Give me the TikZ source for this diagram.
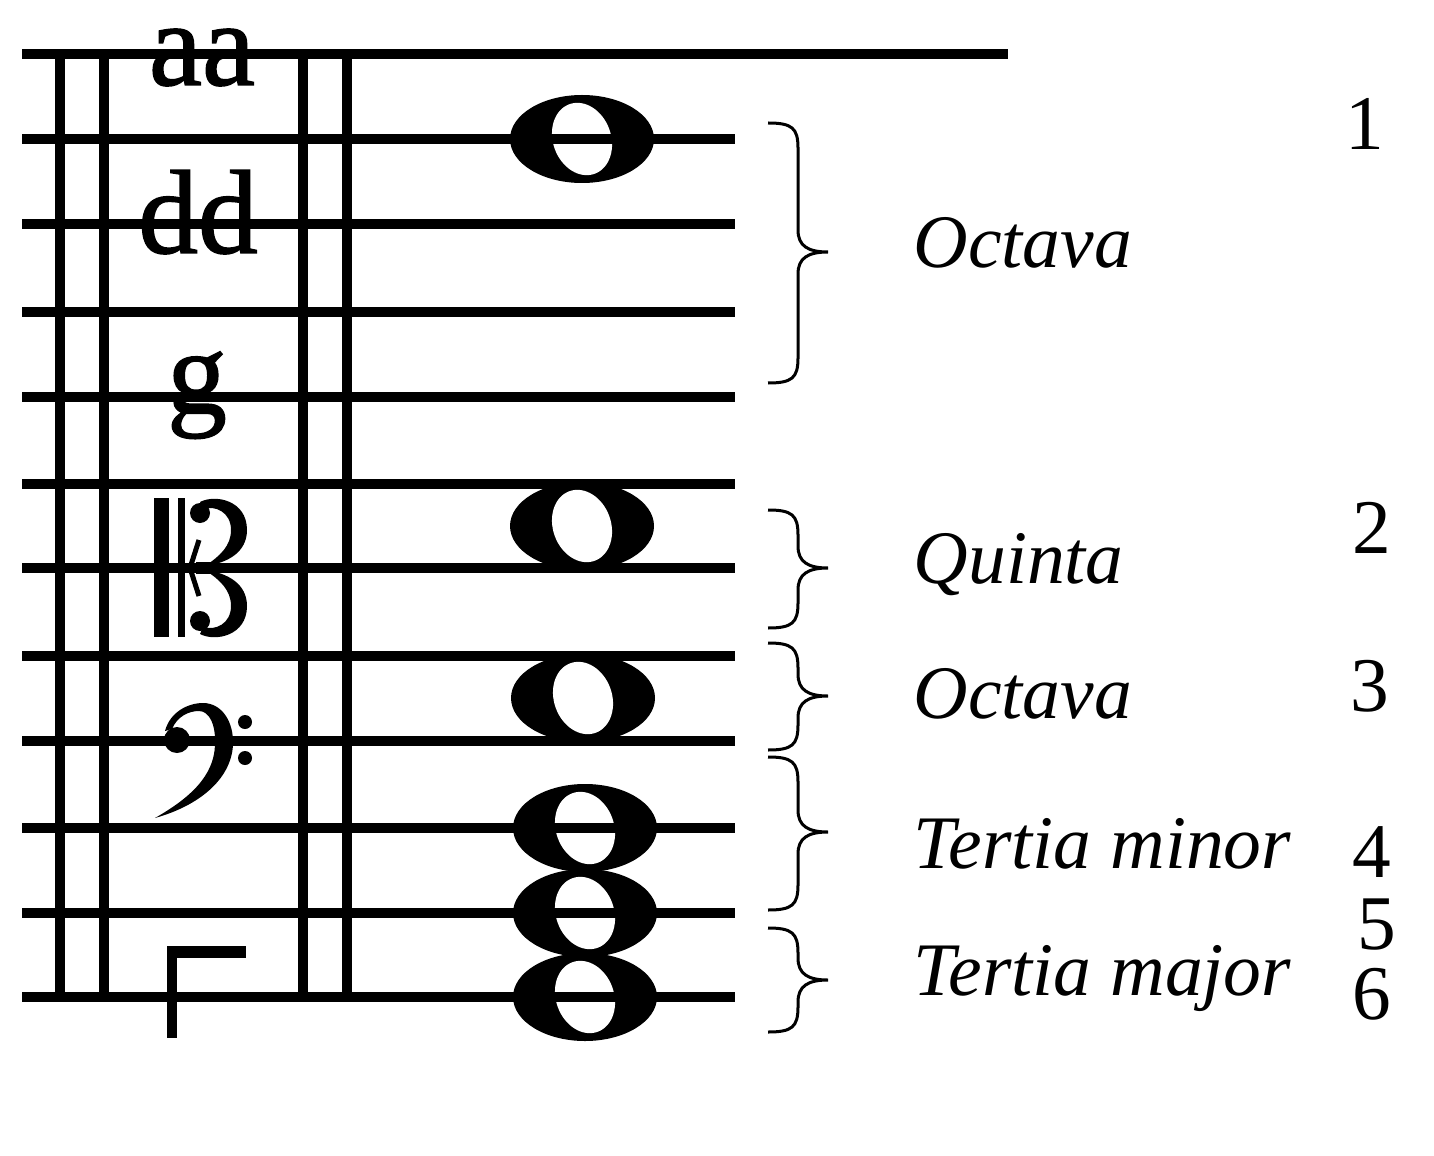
\documentclass[tikz,border=0pt]{standalone}
\usepackage{fontspec}
\setmainfont{Liberation Serif}
\newfontfamily\heavyfont[FakeBold=1.2]{Liberation Serif}
\usetikzlibrary{calc}
\tikzset{
  sl/.style={line width=1mm},
  br/.style={line width=0.3mm},
  lt/.style={inner sep=0pt,anchor=base,font=\heavyfont\fontsize{34}{38}\selectfont},
  iv/.style={inner sep=0pt,anchor=base west,font=\fontsize{21.5}{24}\selectfont\itshape},
  nr/.style={inner sep=0pt,anchor=base,font=\fontsize{22}{26}\selectfont},
  every picture/.style={x=0.01cm,y=-0.01cm},
}
\newcommand{\wnote}[2]{\fill (#1,#2) ellipse [x radius=72,y radius=44];
  \fill[white,rotate around={20:(#1,#2)}] (#1,#2) ellipse [x radius=29,y radius=37];}
\newcommand{\ibrace}[3]{\draw[br] (768,#1) .. controls (792,#1) and (798,#1+5) .. (798,#1+25) -- (798,#2-22)
  .. controls (798,#2-6) and (808,#2) .. (828,#2) .. controls (808,#2) and (798,#2+6) .. (798,#2+22)
  -- (798,#3-25) .. controls (798,#3-5) and (792,#3) .. (768,#3);}

\begin{document}
\begin{tikzpicture}
\useasboundingbox (0,0) rectangle (1434,1155);
\wnote{582}{139} \wnote{582}{526} \wnote{583}{698} \wnote{585}{828} \wnote{585}{913} \wnote{585}{997}
\draw[sl] (22,54) -- (1008,54);
\foreach \y in {139,224,312,397,484,568,656,741,828,913,997} \draw[sl] (22,\y) -- (735,\y);
\foreach \x in {60,104,303,347} \draw[sl] (\x,50) -- (\x,1002);
\node[lt] (aa) at (202,85) {aa}; \node[lt] (dd) at (198,253) {dd}; \node[lt] (g) at (197,413) {g};
\fill (154,498) rectangle (169,637); \fill (178,498) rectangle (185,637);
\fill (200,502) .. controls (215,494) and (247,500) .. (247,530) .. controls (247,552) and (228,563) .. (205,566)
  .. controls (220,556) and (231,546) .. (231,530) .. controls (231,512) and (215,505) .. (203,509) -- cycle;
\fill (200,634) .. controls (215,642) and (247,636) .. (247,606) .. controls (247,584) and (228,573) .. (205,570)
  .. controls (220,580) and (231,590) .. (231,606) .. controls (231,624) and (215,631) .. (203,627) -- cycle;
\fill (200,513) circle [radius=10]; \fill (200,621) circle [radius=10]; \fill (196,562) rectangle (212,574);
\draw[line width=0.5mm] (199,540) -- (190,568) -- (199,596);
\fill (177,740) circle [radius=13]; \fill (245,722) circle [radius=7]; \fill (245,758) circle [radius=7];
\fill (165,731) .. controls (170,712) and (188,703) .. (203,703) .. controls (222,703) and (234,722) .. (233,745)
  .. controls (231,780) and (198,806) .. (155,818) .. controls (190,798) and (214,776) .. (215,745)
  .. controls (216,724) and (209,711) .. (199,711) .. controls (188,711) and (177,717) .. (172,729) -- cycle;
\fill (167,946) rectangle (246,958); \fill (167,946) rectangle (177,1038);
\ibrace{123}{252}{383} \ibrace{510}{568}{628} \ibrace{643}{696}{750} \ibrace{757}{832}{910} \ibrace{928}{980}{1032}
\node[iv] (oct1) at (913,268) {Octava}; \node[iv] (qui) at (913,583) {Quinta};
\node[iv] (oct2) at (913,718) {Octava}; \node[iv] (tmin) at (913,868) {Tertia minor};
\node[iv] (tmaj) at (913,995) {Tertia major};
\node[nr] (n1) at (1365,150) {1}; \node[nr] (n2) at (1372,553) {2}; \node[nr] (n3) at (1370,711) {3};
\node[nr] (n4) at (1372,877) {4}; \node[nr] (n5) at (1377,949) {5}; \node[nr] (n6) at (1372,1019) {6};
\end{tikzpicture}
\end{document}
